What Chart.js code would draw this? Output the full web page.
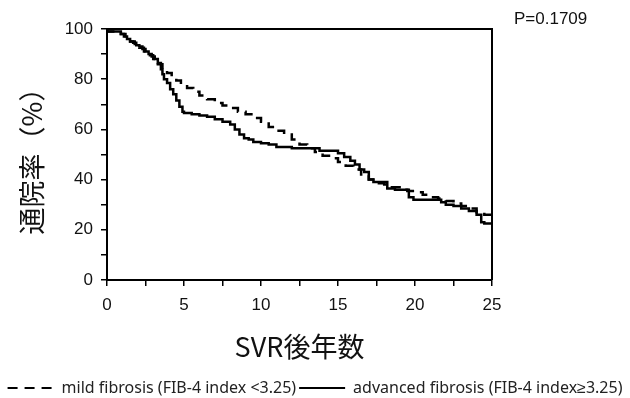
<!DOCTYPE html>
<html>
<head>
<meta charset="utf-8">
<script src="https://cdn.jsdelivr.net/npm/chart.js@4.4.0/dist/chart.umd.min.js"></script>
<style>
  html, body { margin: 0; padding: 0; background: #fff; }
  #wrap { width: 630px; height: 398px; }
</style>
</head>
<body>
<div id="wrap"><canvas id="kmChart" width="630" height="398"></canvas></div>
<script>
// Kaplan-Meier data (years after SVR, % still attending)
const mildTimes = [0, 0.9, 1.2, 1.5, 1.8, 2.1, 2.4, 2.7, 3.0, 3.3, 3.6, 3.9, 4.2, 4.5, 4.8, 5.2, 5.6, 6.0, 6.5, 7.0, 7.5, 8.0, 8.5, 9.0, 9.5, 10.0, 10.5, 11.0, 11.5, 12.0, 12.5, 13.0, 13.5, 14.0, 14.5, 15.0, 15.5, 16.0, 16.5, 17.0, 17.5, 18.0, 18.5, 19.0, 19.5, 20.0, 20.5, 21.0, 21.5, 22.0, 22.5, 23.0, 23.5, 24.0, 24.5, 25];
const mildRates = [100, 99, 98, 96.5, 95, 94, 92.5, 91, 89.5, 88, 86, 84, 82.5, 81, 79.5, 78, 76.5, 75, 73.5, 72, 70.5, 69.5, 68.5, 67, 66, 64.5, 63, 61, 59.5, 58, 56, 54, 52.5, 51, 49.5, 48.5, 47, 45.5, 44, 42, 40, 38.5, 38, 37, 36, 35.5, 35, 34, 33, 32.5, 31.5, 30.5, 29.5, 28.5, 27, 26];

const advTimes = [0, 0.9, 1.1, 1.3, 1.5, 1.7, 1.9, 2.1, 2.3, 2.5, 2.7, 2.9, 3.1, 3.3, 3.5, 3.6, 3.7, 3.9, 4.1, 4.3, 4.5, 4.7, 4.9, 5.0, 5.5, 6.0, 6.5, 7.0, 7.5, 8.0, 8.3, 8.6, 8.9, 9.2, 9.5, 10.0, 10.5, 11.0, 12.0, 13.0, 13.8, 15.0, 15.4, 15.8, 16.1, 16.4, 16.7, 17.0, 17.3, 18.2, 18.7, 19.6, 19.9, 21.7, 22.0, 22.5, 23.0, 23.5, 24.0, 24.3, 24.5, 25];
const advRates = [100, 99, 98, 97, 96, 95, 94.5, 93.5, 93, 92, 91, 90, 89, 88, 86.5, 84, 82, 80, 78.5, 76, 74, 71.5, 69, 67, 66.5, 66, 65.5, 65, 64, 63, 62, 60, 58, 56.5, 56, 55, 54.5, 54, 53, 52.5, 52.5, 51.5, 50.5, 49, 47.5, 46, 44, 43, 40, 39, 36.5, 36, 33, 32, 31, 30, 29.5, 28.5, 27.5, 26, 23, 22.5];

const seriesLabels = ['mild fibrosis (FIB-4 index <3.25)', 'advanced fibrosis (FIB-4 index\u22653.25)'];
const xTickLabels = [0, 5, 10, 15, 20, 25];
const yTickLabels = [0, 20, 40, 60, 80, 100];
const pValueText = 'P=0.1709';

const tickFont = { family: '"Liberation Sans", Arial, sans-serif', size: 17 };
const cjkFont = '"Noto Sans CJK JP", "Noto Sans", sans-serif';

function toPoints(times, rates) {
  return times.map((t, i) => ({ x: t, y: rates[i] }));
}

// frame on top/right + P value
const framePlugin = {
  id: 'frame',
  afterDatasetsDraw(chart) {
    const { ctx, chartArea: a } = chart;
    ctx.save();
    ctx.strokeStyle = '#000';
    ctx.lineWidth = 2;
    ctx.beginPath();
    ctx.moveTo(a.left, a.top);
    ctx.lineTo(a.right, a.top);
    ctx.lineTo(a.right, a.bottom);
    ctx.stroke();
    ctx.fillStyle = '#111';
    ctx.font = '17px "Liberation Sans", Arial, sans-serif';
    ctx.textBaseline = 'alphabetic';
    ctx.fillText(pValueText, a.right + 22, 24);
    ctx.restore();
  }
};

const ctx = document.getElementById('kmChart').getContext('2d');
new Chart(ctx, {
  type: 'line',
  data: {
    datasets: [{
      label: seriesLabels[0],
      data: toPoints(mildTimes, mildRates),
      borderColor: '#000',
      backgroundColor: '#000',
      borderWidth: 2.5,
      borderDash: [10, 7],
      stepped: 'after',
      pointRadius: 0,
      fill: false
    }, {
      label: seriesLabels[1],
      data: toPoints(advTimes, advRates),
      borderColor: '#000',
      backgroundColor: '#000',
      borderWidth: 2.5,
      stepped: 'after',
      pointRadius: 0,
      fill: false
    }]
  },
  options: {
    responsive: false,
    animation: false,
    devicePixelRatio: 1,
    // negative bottom padding pushes the legend down to the very edge like the original
    layout: { padding: { top: 29, left: 0, right: 0, bottom: -8 } },
    plugins: {
      tooltip: { enabled: false },
      legend: {
        position: 'bottom',
        labels: {
          usePointStyle: true,
          pointStyle: 'line',
          pointStyleWidth: 46,
          padding: 3,
          color: '#222',
          font: { family: '"Noto Sans", sans-serif', size: 16 },
          generateLabels(chart) {
            const items = Chart.defaults.plugins.legend.labels.generateLabels(chart);
            items.forEach(it => {
              const ds = chart.data.datasets[it.datasetIndex];
              it.lineDash = ds.borderDash || [];
              it.lineWidth = 2;
            });
            return items;
          }
        }
      }
    },
    scales: {
      x: {
        type: 'linear',
        min: 0,
        max: 25,
        ticks: {
          stepSize: 2.5,
          autoSkip: false,
          maxRotation: 0,
          color: '#111',
          font: tickFont,
          padding: 9,
          callback: v => xTickLabels.includes(v) ? String(v) : ''
        },
        grid: { drawOnChartArea: false, tickLength: 6, color: '#000', lineWidth: 1.5 },
        border: { color: '#000', width: 2 },
        title: {
          display: true,
          text: 'SVR後年数',
          color: '#111',
          font: { family: cjkFont, size: 27 },
          padding: { top: 8, bottom: 14 }
        },
        afterFit(scale) { scale.height = 97; }
      },
      y: {
        min: 0,
        max: 100,
        ticks: {
          stepSize: 10,
          autoSkip: false,
          color: '#111',
          font: tickFont,
          padding: 8,
          callback: v => yTickLabels.includes(v) ? String(v) : ''
        },
        grid: { drawOnChartArea: false, tickLength: 6, color: '#000', lineWidth: 1.5 },
        border: { color: '#000', width: 2 },
        title: {
          display: true,
          text: '通院率（%）',
          color: '#111',
          font: { family: cjkFont, size: 27 },
          padding: { top: 16, bottom: 8 }
        },
        afterFit(scale) { scale.width = 107; }
      },
      pad: {
        type: 'linear',
        position: 'right',
        min: 0,
        max: 1,
        grid: { display: false },
        ticks: { display: false },
        border: { display: false },
        afterFit(scale) { scale.width = 138; }
      }
    }
  },
  plugins: [framePlugin]
});
</script>
</body>
</html>
